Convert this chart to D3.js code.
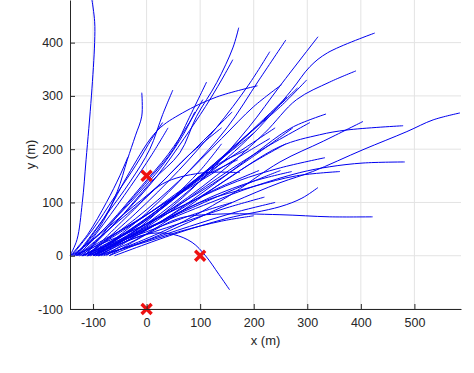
<!DOCTYPE html>
<html>
<head>
<meta charset="utf-8">
<script src="https://cdn.jsdelivr.net/npm/d3@7"></script>
<style>
  body { margin: 0; background: #fff; }
  text { font-family: "Liberation Sans", Arial, sans-serif; }
</style>
</head>
<body>
<div id="chart"></div>
<script>
// axis ticks
const xTicks = [-100, 0, 100, 200, 300, 400, 500];
const yTicks = [-100, 0, 100, 200, 300, 400];

// red cross markers (x, y in m)
const markers = [[0, 150], [100, 0], [0, -100]];

// trajectories, each a list of [x, y] points
const trajectories = [
  [[-143,0],[-130,30],[-120,100],[-113,180],[-103,300],[-97,400],[-97,440],[-102,480]],
  [[-135,0],[-90,50],[-55,120],[-36,180],[-21,225],[-9,262],[-9,306]],
  [[-132,0],[-80,70],[-30,140],[6,200],[30,265],[49,311]],
  [[-125,0],[-60,60],[10,140],[62,193],[93,261],[131,325],[161,390],[172,428]],
  [[-120,0],[-50,70],[20,150],[70,220],[110,280],[140,330],[161,368]],
  [[-115,0],[-50,80],[10,150],[50,200],[80,260],[112,326]],
  [[-130,0],[-70,60],[-10,130],[40,190],[80,250],[105,293]],
  [[-110,0],[-20,80],[60,160],[130,240],[190,320],[230,383]],
  [[-100,0],[0,80],[80,160],[150,240],[210,330],[260,405]],
  [[-90,0],[20,70],[110,150],[190,240],[250,320],[320,411]],
  [[-100,0],[0,60],[100,140],[200,230],[270,310],[305,355],[338,381],[426,418]],
  [[-95,0],[20,70],[130,150],[220,230],[280,293],[342,326],[391,347]],
  [[-105,0],[0,70],[100,150],[180,220],[250,280],[299,330]],
  [[-110,0],[-10,60],[80,130],[160,200],[230,265],[282,315]],
  [[-115,0],[-20,70],[60,140],[140,220],[200,280],[252,321]],
  [[-130,0],[-80,70],[-30,160],[20,235],[67,268],[131,298],[207,319]],
  [[-100,0],[0,70],[100,150],[180,220],[262,298]],
  [[-90,0],[20,60],[120,130],[200,190],[270,240],[335,266]],
  [[-95,0],[10,60],[110,130],[200,190],[305,250]],
  [[-80,0],[40,50],[150,110],[249,176],[330,215],[404,252]],
  [[-90,0],[20,60],[130,130],[249,205],[323,227],[374,236],[479,244]],
  [[-70,0],[50,50],[160,100],[249,137],[310,158],[404,199],[486,233],[535,255],[585,268]],
  [[-100,0],[0,50],[120,100],[200,130],[286,156],[342,167],[404,174],[482,176]],
  [[-110,0],[0,50],[100,100],[200,130],[280,150],[361,158]],
  [[-120,0],[-20,50],[80,100],[170,140],[250,165],[333,184]],
  [[-60,0],[50,40],[150,70],[249,92],[290,108],[320,128]],
  [[-70,0],[0,40],[60,70],[131,78],[249,77],[342,73],[422,73]],
  [[-100,0],[0,60],[100,120],[190,180],[273,240]],
  [[-100,0],[20,60],[120,110],[200,140],[271,158]],
  [[-110,0],[-30,80],[30,135],[100,155],[174,156]],
  [[-75,0],[-30,30],[10,42],[50,40],[85,25],[110,0],[135,-35],[155,-64]],
  [[-140,0],[-90,40],[-30,100],[30,170],[70,230],[90,270]],
  [[-138,0],[-100,30],[-40,80],[20,130],[80,190],[140,240]],
  [[-125,0],[-60,40],[20,90],[100,140],[180,190],[230,220]],
  [[-120,0],[-50,30],[40,70],[130,110],[200,140],[250,160]],
  [[-128,0],[-70,50],[0,110],[60,170],[120,230],[160,270]],
  [[-105,0],[-30,30],[60,60],[150,90],[220,110]],
  [[-85,0],[-10,25],[80,55],[160,80],[240,100]],
  [[-140,0],[-100,50],[-60,110],[-20,170],[10,220],[30,250]],
  [[-132,0],[-80,30],[-10,70],[60,120],[130,170],[190,200]],
  [[-118,0],[-40,50],[50,110],[120,160],[180,200],[240,240]],
  [[-95,0],[-20,20],[60,45],[140,65],[200,75]],
  [[-112,0],[-30,50],[40,100],[110,150],[170,180]],
  [[-126,0],[-80,60],[-30,130],[10,190],[40,240]],
  [[-142,0],[-110,40],[-75,100],[-50,150],[-35,185]],
  [[-136,0],[-90,20],[-20,50],[60,90],[140,130],[210,160]],
  [[-122,0],[-70,20],[0,45],[80,75],[160,100]],
  [[-108,0],[-40,40],[30,90],[90,140],[150,190],[200,230]],
  [[-98,0],[-30,40],[40,100],[100,160],[140,210]],
  [[-88,0],[-20,30],[60,80],[130,130],[190,170],[260,210]]
];

const width = 474, height = 373;
const margin = { top: 0, right: 13, bottom: 64, left: 70 };

const svg = d3.select("#chart").append("svg").attr("width", width).attr("height", height);

const x = d3.scaleLinear().domain([-143, 587]).range([margin.left, width - margin.right]);
const y = d3.scaleLinear().domain([-100, 480]).range([height - margin.bottom, margin.top]);

// grid
svg.append("g").selectAll("line").data(xTicks).join("line")
    .attr("x1", d => x(d)).attr("x2", d => x(d))
    .attr("y1", y.range()[0]).attr("y2", y.range()[1])
    .attr("stroke", "#e3e3e3").attr("stroke-width", 1);
svg.append("g").selectAll("line").data(yTicks).join("line")
    .attr("y1", d => y(d)).attr("y2", d => y(d))
    .attr("x1", x.range()[0]).attr("x2", x.range()[1])
    .attr("stroke", "#e3e3e3").attr("stroke-width", 1);

// trajectories
const line = d3.line().x(d => x(d[0])).y(d => y(d[1])).curve(d3.curveCatmullRom.alpha(0.5));
svg.append("g").selectAll("path").data(trajectories).join("path")
    .attr("d", line)
    .attr("fill", "none")
    .attr("stroke", "#0000f0")
    .attr("stroke-width", 1);

// markers
svg.append("g").selectAll("path").data(markers).join("path")
    .attr("transform", d => `translate(${x(d[0])},${y(d[1])})`)
    .attr("d", "M-5,-5L5,5M-5,5L5,-5")
    .attr("stroke", "#ee1111")
    .attr("stroke-width", 3.4)
    .attr("fill", "none");

// axes (ticks pointing inward)
const xAxis = svg.append("g")
    .attr("transform", `translate(0,${y.range()[0]})`)
    .call(d3.axisBottom(x).tickValues(xTicks).tickFormat(d => String(d))
        .tickSizeInner(-5).tickSizeOuter(0).tickPadding(9));
const yAxis = svg.append("g")
    .attr("transform", `translate(${x.range()[0]},0)`)
    .call(d3.axisLeft(y).tickValues(yTicks).tickFormat(d => String(d))
        .tickSizeInner(-5).tickSizeOuter(0).tickPadding(7));

[xAxis, yAxis].forEach(g => {
    g.select(".domain").attr("stroke", "#262626");
    g.selectAll(".tick line").attr("stroke", "#262626");
    g.selectAll(".tick text").attr("fill", "#262626").style("font-size", "12.5px")
        .style("font-family", "'Liberation Sans', Arial, sans-serif");
});

svg.append("text")
    .attr("x", (x.range()[0] + x.range()[1]) / 2)
    .attr("y", 345)
    .attr("text-anchor", "middle")
    .attr("fill", "#262626")
    .style("font-size", "13px")
    .text("x (m)");

svg.append("text")
    .attr("transform", `translate(35,${(y.range()[0] + y.range()[1]) / 2}) rotate(-90)`)
    .attr("text-anchor", "middle")
    .attr("fill", "#262626")
    .style("font-size", "13px")
    .text("y (m)");
</script>
</body>
</html>
